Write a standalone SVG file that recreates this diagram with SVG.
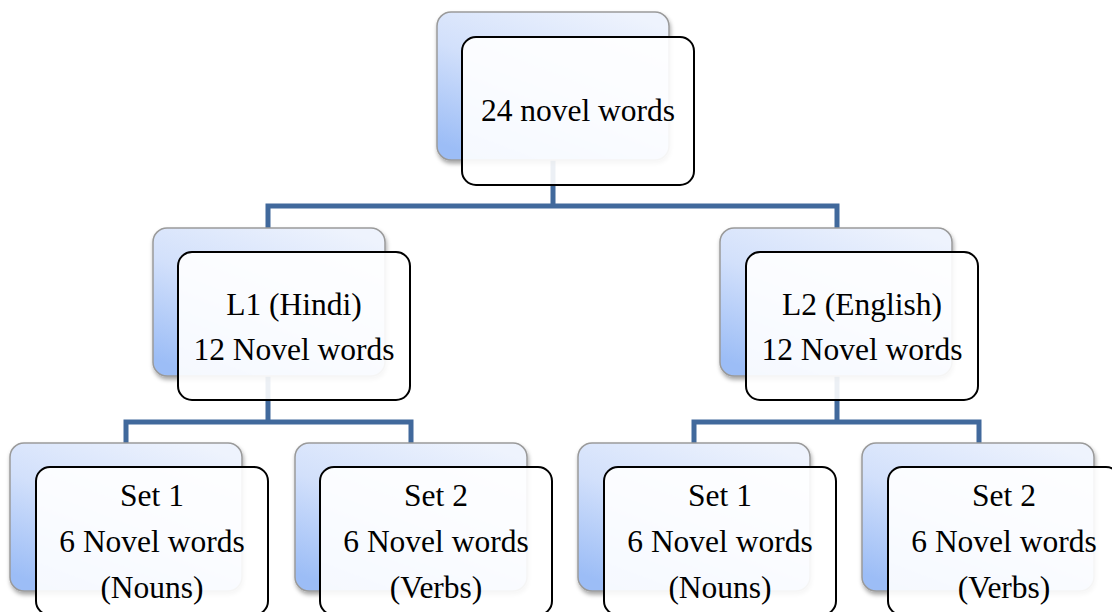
<svg xmlns="http://www.w3.org/2000/svg" width="1112" height="612" viewBox="0 0 1112 612">
<defs>
<linearGradient id="bg" x1="0.8" y1="0" x2="0.2" y2="1">
<stop offset="0" stop-color="#eef3fd"/>
<stop offset="0.5" stop-color="#d2e0fb"/>
<stop offset="1" stop-color="#9cbdf6"/>
</linearGradient>
<filter id="sh" x="-10%" y="-10%" width="125%" height="125%">
<feDropShadow dx="1" dy="3" stdDeviation="2" flood-color="#000" flood-opacity="0.35"/>
</filter>
</defs>
<style>
.back{fill:url(#bg);stroke:#9a9a9a;stroke-width:1.5;filter:url(#sh)}
.front{fill:#ffffff;fill-opacity:0.9;stroke:#000;stroke-width:2}
.conn{fill:none;stroke:#41699c;stroke-width:5}
text{font-family:"Liberation Serif","Times New Roman",serif;font-size:31.5px;fill:#000;text-anchor:middle}
</style>
<rect width="1112" height="612" fill="#fff"/>
<g id="connectors">
<path class="conn" d="M553,160 V206 M268,228 V206 H837 V228"/>
<path class="conn" d="M268,376 V422 M126,443 V422 H411 V443"/>
<path class="conn" d="M837,376 V422 M694,443 V422 H979 V443"/>
</g>
<g id="root">
<rect class="back" x="437" y="12" width="232" height="148" rx="14"/>
<rect class="front" x="462" y="37" width="232" height="148" rx="14"/>
<text x="578" y="121">24 novel words</text>
</g>
<g id="l1">
<rect class="back" x="153" y="228" width="232" height="148" rx="14"/>
<rect class="front" x="178" y="252" width="232" height="148" rx="14"/>
<text x="294" y="315">L1 (Hindi)</text>
<text x="294" y="360">12 Novel words</text>
</g>
<g id="l2">
<rect class="back" x="720" y="228" width="232" height="148" rx="14"/>
<rect class="front" x="746" y="252" width="232" height="148" rx="14"/>
<text x="862" y="315">L2 (English)</text>
<text x="862" y="360">12 Novel words</text>
</g>
<g id="l1set1">
<rect class="back" x="10" y="443" width="232" height="148" rx="14"/>
<rect class="front" x="36" y="467" width="232" height="148" rx="14"/>
<text x="152" y="506">Set 1</text>
<text x="152" y="552">6 Novel words</text>
<text x="152" y="598">(Nouns)</text>
</g>
<g id="l1set2">
<rect class="back" x="295" y="443" width="232" height="148" rx="14"/>
<rect class="front" x="320" y="467" width="232" height="148" rx="14"/>
<text x="436" y="506">Set 2</text>
<text x="436" y="552">6 Novel words</text>
<text x="436" y="598">(Verbs)</text>
</g>
<g id="l2set1">
<rect class="back" x="578" y="443" width="232" height="148" rx="14"/>
<rect class="front" x="604" y="467" width="232" height="148" rx="14"/>
<text x="720" y="506">Set 1</text>
<text x="720" y="552">6 Novel words</text>
<text x="720" y="598">(Nouns)</text>
</g>
<g id="l2set2">
<rect class="back" x="862" y="443" width="232" height="148" rx="14"/>
<rect class="front" x="888" y="467" width="232" height="148" rx="14"/>
<text x="1004" y="506">Set 2</text>
<text x="1004" y="552">6 Novel words</text>
<text x="1004" y="598">(Verbs)</text>
</g>
</svg>
